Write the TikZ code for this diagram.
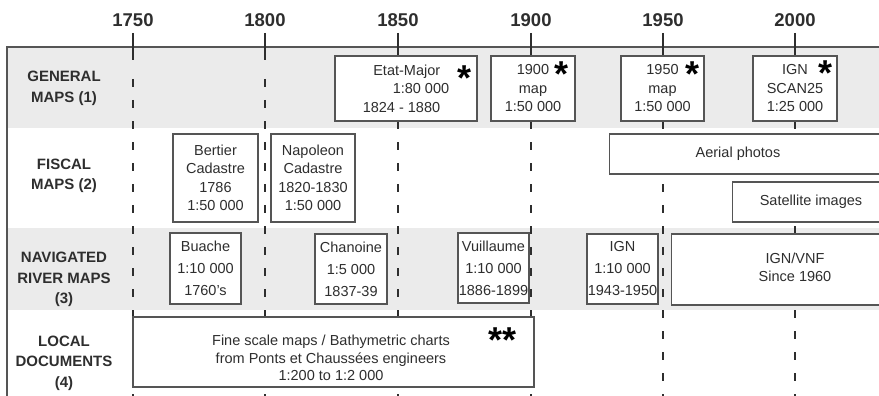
\documentclass[tikz,border=0pt]{standalone}
\usepackage{fontspec}
\setmainfont{Liberation Sans}
\definecolor{bandgray}{HTML}{EBEBEB}
\definecolor{boxline}{HTML}{555555}
\definecolor{inkgray}{HTML}{2E2E2E}

\begin{document}
\begin{tikzpicture}[x=1pt, y=-1pt,
  yearlab/.style={font=\fontsize{18.5}{20}\selectfont\bfseries, text=inkgray, inner sep=3pt, anchor=south},
  rowlab/.style={font=\fontsize{15}{20.5}\selectfont\bfseries, text=inkgray, align=center},
  tickline/.style={draw=inkgray, line width=2pt},
  dashline/.style={draw=inkgray, line width=2pt, dash pattern=on 8pt off 13pt},
  mapbox/.style={draw=boxline, line width=1.1pt, fill=white, inner sep=0pt, align=center, text=inkgray, font=\fontsize{14.5}{18.5}\selectfont},
  riverbox/.style={mapbox, font=\fontsize{14.5}{22}\selectfont},
  boxtext/.style={inner sep=0pt, align=center, text=inkgray, font=\fontsize{14.5}{18}\selectfont},
  starmark/.style={inner sep=0pt, text=black, font=\fontsize{36}{36}\selectfont\bfseries}]
\useasboundingbox (0,0) rectangle (879,396);
\clip (0,0) rectangle (879,396);

% grey bands and frame
\fill[bandgray] (7,47) rectangle (890,128);
\fill[bandgray] (7,228) rectangle (890,310);
\draw[boxline, line width=1.2pt] (890,47) -- (7,47) -- (7,400);

% years
\node[yearlab] (y1750) at (133,30) {1750};
\node[yearlab] (y1800) at (265,30) {1800};
\node[yearlab] (y1850) at (398,30) {1850};
\node[yearlab] (y1900) at (531,30) {1900};
\node[yearlab] (y1950) at (663,30) {1950};
\node[yearlab] (y2000) at (795,30) {2000};
\draw[tickline] (y1750.south) ++(0,3) -- ++(0,27) ++(0,19) coordinate (d1750);
\draw[tickline] (y1800.south) ++(0,3) -- ++(0,27) ++(0,19) coordinate (d1800);
\draw[tickline] (y1850.south) ++(0,3) -- ++(0,27) ++(0,19) coordinate (d1850);
\draw[tickline] (y1900.south) ++(0,3) -- ++(0,27) ++(0,19) coordinate (d1900);
\draw[tickline] (y1950.south) ++(0,3) -- ++(0,27) ++(0,19) coordinate (d1950);
\draw[tickline] (y2000.south) ++(0,3) -- ++(0,27) ++(0,19) coordinate (d2000);
\draw[dashline] (d1750) -- ++(0,330);
\draw[dashline] (d1800) -- ++(0,330);
\draw[dashline] (d1850) -- ++(0,330);
\draw[dashline] (d1900) -- ++(0,330);
\draw[dashline] (d1950) -- ++(0,330);
\draw[dashline] (d2000) -- ++(0,330);

% row titles
\node[rowlab] (general) at (64,88.5) {GENERAL\\MAPS (1)};
\node[rowlab] (fiscal) at (64,176) {FISCAL\\MAPS (2)};
\node[rowlab] (river) at (64,279.5) {NAVIGATED\\RIVER MAPS\\(3)};
\node[rowlab] (local) at (64,363) {LOCAL\\DOCUMENTS\\(4)};

% general maps
\node[mapbox, align=right, minimum width=142, minimum height=65] (etat) at (406,88.5)
  {Etat-Major\hspace*{9pt}\\1:80 000\hspace*{9pt}\\1824 - 1880\hspace*{9pt}};
\node[mapbox, minimum width=84, minimum height=65] (map1900) at (533,88.5) {1900\\map\\1:50 000};
\node[mapbox, minimum width=83, minimum height=65] (map1950) at (662.5,88.5) {1950\\map\\1:50 000};
\node[mapbox, minimum width=84, minimum height=65] (scan25) at (795,88.5) {IGN\\SCAN25\\1:25 000};
\node[starmark] (s_etat) at (465,78) {*};
\node[starmark] (s_1900) at (562,74) {*};
\node[starmark] (s_1950) at (692,74) {*};
\node[starmark] (s_scan) at (825,73) {*};

% fiscal maps
\node[mapbox, minimum width=85, minimum height=88] (bertier) at (215.5,178) {Bertier\\Cadastre\\1786\\1:50 000};
\node[mapbox, minimum width=84, minimum height=88] (napoleon) at (313,178) {Napoleon\\Cadastre\\1820-1830\\1:50 000};
\node[mapbox, anchor=west, minimum width=300, minimum height=40] (aerial) at (609,154) {};
\node[boxtext] (aerialtxt) at (738,154) {Aerial photos};
\node[mapbox, anchor=west, minimum width=160, minimum height=40] (satellite) at (732,202) {};
\node[boxtext] (satellitetxt) at (811,202) {Satellite images};

% navigated river maps
\node[riverbox, minimum width=71, minimum height=71] (buache) at (205.5,268.5) {Buache\\1:10 000\\1760's};
\node[riverbox, minimum width=72, minimum height=70] (chanoine) at (351,269) {Chanoine\\1:5 000\\1837-39};
\node[riverbox, minimum width=71, minimum height=70] (vuillaume) at (493.5,268) {Vuillaume\\1:10 000\\1886-1899};
\node[riverbox, minimum width=71, minimum height=70] (ign10) at (622.5,269) {IGN\\1:10 000\\1943-1950};
\node[mapbox, anchor=west, minimum width=230, minimum height=71] (ignvnf) at (671,269.5) {};
\node[boxtext] (ignvnftxt) at (795,267) {IGN/VNF\\Since 1960};
% 1900 line runs over the Vuillaume box edge
\begin{scope}
  \clip ([xshift=-12pt]vuillaume.north east) rectangle ([xshift=12pt]vuillaume.south east);
  \draw[dashline] (d1900) -- ++(0,330);
\end{scope}

% local documents
\node[mapbox, minimum width=401, minimum height=70] (localdocs) at (333.5,352) {};
\node[boxtext, font=\fontsize{14.5}{17.5}\selectfont] (localtxt) at (331,358)
  {Fine scale maps / Bathymetric charts\\from Ponts et Chaussées engineers\\1:200 to 1:2 000};
\node[starmark] (s_local) at (503,340) {**};
\end{tikzpicture}
\end{document}
